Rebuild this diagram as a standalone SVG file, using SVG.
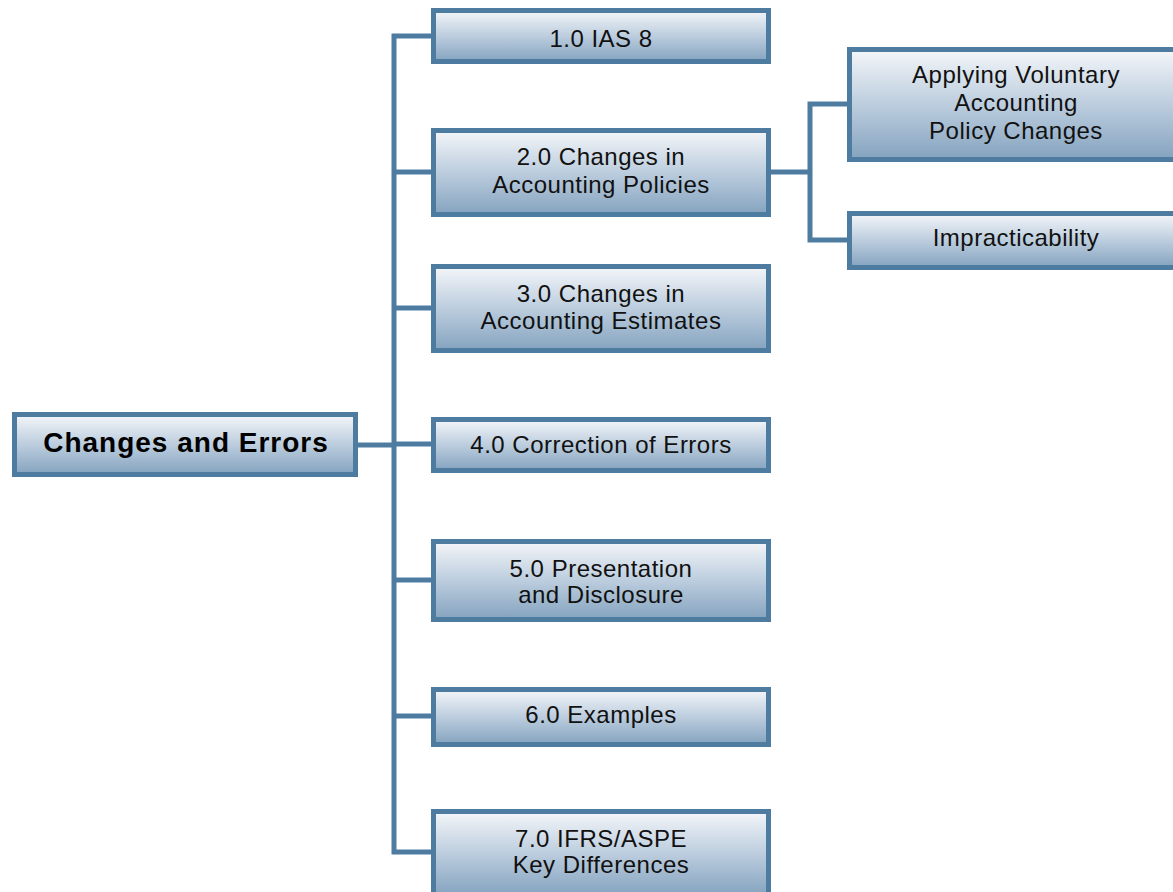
<svg xmlns="http://www.w3.org/2000/svg" width="1173" height="892" viewBox="0 0 1173 892">
<defs>
<linearGradient id="g" x1="0" y1="0" x2="0" y2="1">
<stop offset="0" stop-color="#f4f6f9"/>
<stop offset="0.5" stop-color="#bccdde"/>
<stop offset="1" stop-color="#84a3bf"/>
</linearGradient>
<style>
.box{fill:url(#g);stroke:#4e7ba0;stroke-width:5}
.t{font-family:"Liberation Sans",Arial,Helvetica,sans-serif;font-size:24px;letter-spacing:0.5px;fill:#111;text-anchor:middle}
.tb{font-family:"Liberation Sans",Arial,Helvetica,sans-serif;font-size:28px;font-weight:bold;letter-spacing:1px;fill:#000;text-anchor:middle}
.c{fill:none;stroke:#4e7ba0;stroke-width:5;stroke-linejoin:miter}
</style>
</defs>
<rect width="1173" height="892" fill="#ffffff"/>
<g id="connectors">
<path class="c" d="M433 36H394V852H433"/>
<path class="c" d="M394 172H433M394 308H433M394 444H433M394 580H433M394 716H433M356 445H394"/>
<path class="c" d="M849 104H810V240H849"/>
<path class="c" d="M769 172H810"/>
</g>
<g id="root">
<rect class="box" x="14.5" y="414.5" width="341" height="60"/>
<text class="tb" x="186" y="452">Changes and Errors</text>
</g>
<g id="n1">
<rect class="box" x="433.5" y="10.5" width="335" height="51"/>
<text class="t" x="601" y="47">1.0 IAS 8</text>
</g>
<g id="n2">
<rect class="box" x="433.5" y="130.5" width="335" height="84"/>
<text class="t" x="601" y="165">2.0 Changes in</text>
<text class="t" x="601" y="193">Accounting Policies</text>
</g>
<g id="n3">
<rect class="box" x="433.5" y="266.5" width="335" height="84"/>
<text class="t" x="601" y="302">3.0 Changes in</text>
<text class="t" x="601" y="329">Accounting Estimates</text>
</g>
<g id="n4">
<rect class="box" x="433.5" y="419.5" width="335" height="51"/>
<text class="t" x="601" y="453">4.0 Correction of Errors</text>
</g>
<g id="n5">
<rect class="box" x="433.5" y="541.5" width="335" height="78"/>
<text class="t" x="601" y="577">5.0 Presentation</text>
<text class="t" x="601" y="603">and Disclosure</text>
</g>
<g id="n6">
<rect class="box" x="433.5" y="689.5" width="335" height="55"/>
<text class="t" x="601" y="723">6.0 Examples</text>
</g>
<g id="n7">
<rect class="box" x="433.5" y="811.5" width="335" height="84"/>
<text class="t" x="601" y="847">7.0 IFRS/ASPE</text>
<text class="t" x="601" y="873">Key Differences</text>
</g>
<g id="n21">
<rect class="box" x="849.5" y="49.5" width="335" height="110"/>
<text class="t" x="1016" y="83">Applying Voluntary</text>
<text class="t" x="1016" y="111">Accounting</text>
<text class="t" x="1016" y="139">Policy Changes</text>
</g>
<g id="n22">
<rect class="box" x="849.5" y="213.5" width="335" height="54"/>
<text class="t" x="1016" y="246">Impracticability</text>
</g>
</svg>
